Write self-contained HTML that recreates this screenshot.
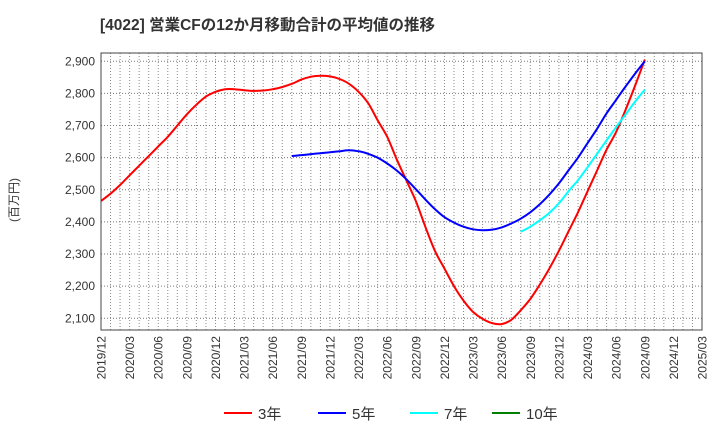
<!DOCTYPE html>
<html><head><meta charset="utf-8"><style>
body{margin:0;background:#fff;font-family:"Liberation Sans","Noto Sans CJK JP",sans-serif;}
svg{display:block}
</style></head><body>
<svg id="c" width="720" height="440" xmlns="http://www.w3.org/2000/svg">
<text x="100" y="30" font-size="15.5" font-weight="bold" fill="#333" font-family="Liberation Sans, Noto Sans CJK JP, sans-serif">[4022]  営業CFの12か月移動合計の平均値の推移</text>
<text transform="translate(18,200) rotate(-90)" text-anchor="middle" font-size="12" fill="#333" font-family="Liberation Sans, Noto Sans CJK JP, sans-serif">(百万円)</text>
<g id="grid"></g><g id="series"></g><g id="axes"></g><g id="legend"></g>
</svg>
<script>
const xLabels=["2019/12","2020/03","2020/06","2020/09","2020/12","2021/03","2021/06","2021/09","2021/12","2022/03","2022/06","2022/09","2022/12","2023/03","2023/06","2023/09","2023/12","2024/03","2024/06","2024/09","2024/12","2025/03"];
const yTicks=[2100,2200,2300,2400,2500,2600,2700,2800,2900];
const red=[2465,2488,2515,2545,2575,2605,2635,2665,2700,2735,2765,2790,2805,2813,2813,2810,2808,2809,2813,2820,2830,2843,2852,2855,2853,2845,2830,2805,2770,2716,2665,2595,2530,2465,2385,2310,2255,2200,2155,2120,2098,2085,2082,2095,2125,2160,2205,2255,2310,2370,2430,2495,2560,2625,2680,2750,2825,2905];
const redStart=0;
const blue=[2605,2608,2611,2614,2617,2620,2623,2620,2612,2600,2582,2560,2533,2502,2470,2440,2415,2398,2385,2377,2374,2376,2383,2395,2410,2430,2455,2485,2520,2560,2600,2645,2690,2738,2780,2822,2862,2900];
const blueStart=20;
const cyan=[2369,2385,2405,2428,2458,2495,2530,2570,2612,2654,2695,2735,2775,2812];
const cyanStart=44;
const green=[];
const L=101,R=702,T=53,B=330,NM=63;
const xs=i=>L+(R-L)*i/NM;
const ys=v=>318.3-(v-2100)*0.32125;
const NS="http://www.w3.org/2000/svg";
function mk(tag,attrs,parent){const e=document.createElementNS(NS,tag);for(const k in attrs)e.setAttribute(k,attrs[k]);parent.appendChild(e);return e;}
const grid=document.getElementById('grid'),axes=document.getElementById('axes'),ser=document.getElementById('series'),leg=document.getElementById('legend');
for(let i=1;i<NM;i++){const l=mk('line',{x1:xs(i),x2:xs(i),y1:T,y2:B,stroke:'#888','stroke-width':1,'stroke-dasharray':'1,2'},grid);

}
yTicks.forEach(v=>{const l=mk('line',{x1:L,x2:R,y1:ys(v),y2:ys(v),stroke:'#777','stroke-width':1,'stroke-dasharray':'1,2'},grid);


const t=mk('text',{x:L-6,y:ys(v)+4,'text-anchor':'end','font-size':12,fill:'#333'},axes);


t.textContent=v.toLocaleString('en-US');});
const fr=mk('rect',{x:L,y:T,width:R-L,height:B-T,fill:'none',stroke:'#444','stroke-width':1},axes);


xLabels.forEach((s,i)=>{const x=xs(i*3);const t=mk('text',{transform:`translate(${x+4.5},${B+6}) rotate(-90)`,'text-anchor':'end','font-size':12,fill:'#333'},axes);


t.textContent=s;});
function line(arr,start,color,name){if(!arr.length)return;
const P=arr.map((v,i)=>[xs(start+i),ys(v)]);
let d='M'+P[0][0].toFixed(1)+','+P[0][1].toFixed(1);
for(let i=0;i<P.length-1;i++){const p0=P[Math.max(0,i-1)],p1=P[i],p2=P[i+1],p3=P[Math.min(P.length-1,i+2)];
const c1=[p1[0]+(p2[0]-p0[0])/6,p1[1]+(p2[1]-p0[1])/6],c2=[p2[0]-(p3[0]-p1[0])/6,p2[1]-(p3[1]-p1[1])/6];
d+='C'+c1.map(n=>n.toFixed(1)).join(',')+' '+c2.map(n=>n.toFixed(1)).join(',')+' '+p2.map(n=>n.toFixed(1)).join(',');}
const p=mk('path',{d:d,fill:'none',stroke:color,'stroke-width':2,'stroke-linejoin':'round'},ser);

}
line(red,redStart,'#ff0000','series-3y');
line(blue,blueStart,'#0000ff','series-5y');
line(cyan,cyanStart,'#00ffff','series-7y');
line(green,0,'#008000','series-10y');
[[224,'#ff0000','3年'],[318,'#0000ff','5年'],[410,'#00ffff','7年'],[492,'#008000','10年']].forEach(([x,c,s])=>{
const g=mk('g',{},leg);


mk('line',{x1:x,x2:x+28,y1:413,y2:413,stroke:c,'stroke-width':2},g);
const t=mk('text',{x:x+34,y:419,'font-size':15,fill:'#333'},g);t.textContent=s;});
</script>
</body></html>
